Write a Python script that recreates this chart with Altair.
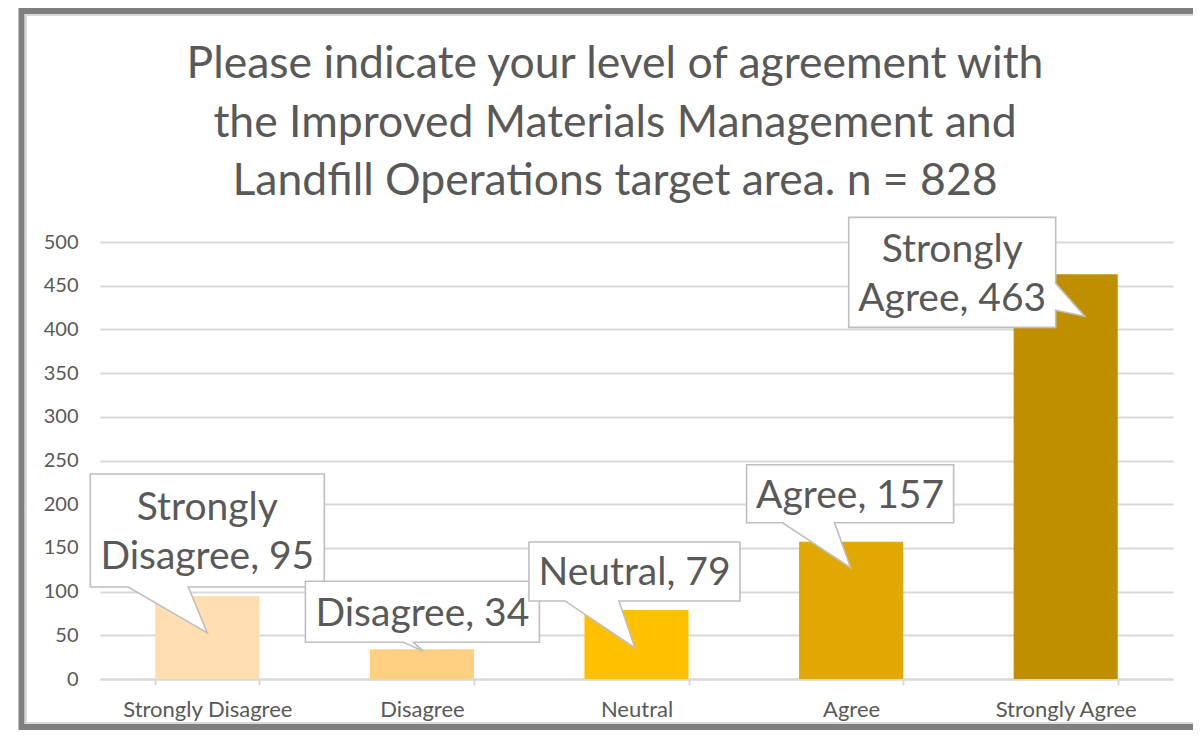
import altair as alt
import pandas as pd

# ---------------- data ----------------
CATEGORIES = ["Strongly Disagree", "Disagree", "Neutral", "Agree", "Strongly Agree"]
COUNTS = [95, 34, 79, 157, 463]
BAR_COLORS = ["#FFDFB1", "#FFCF82", "#FFC000", "#E0A800", "#BF8F00"]
Y_TICKS = [0, 50, 100, 150, 200, 250, 300, 350, 400, 450, 500]
TITLE_LINES = [
    "Please indicate your level of agreement with",
    "the Improved Materials Management and",
    "Landfill Operations target area. n = 828",
]

# ---------------- style ----------------
FONT = "Lato"
TEXT_COLOR = "#595959"
GRID_COLOR = "#D9D9D9"
W, H = 1073, 437
PAD_L, PAD_T, PAD_R, PAD_B = 92, 234, 20, 51
CALLOUT_FS = 39
CALLOUT_LH = 49

# callout geometry in pixels, relative to the top-centre of each bar
CALLOUTS = {
    "Strongly Disagree": dict(box=(-117, 117, -122, -9), base=(-79, -19), tip=(0, 37), side="bottom"),
    "Disagree": dict(box=(-116.5, 117.5, -68, -7), base=(-18.5, -8.5), tip=(1.5, 2), side="bottom"),
    "Neutral": dict(box=(-107.5, 103.5, -68, -9), base=(-71.5, -17.5), tip=(-1.5, 38), side="bottom"),
    "Agree": dict(box=(-104.5, 102.5, -77, -19), base=(-68.5, -16.5), tip=(-0.5, 26), side="bottom"),
    "Strongly Agree": dict(box=(-217, -10, -57, 53), base=(9, 36), tip=(19, 42), side="right"),
}


def callout_path(c):
    x0, x1, y0, y1 = c["box"]
    b1, b2 = c["base"]
    tx, ty = c["tip"]
    if c["side"] == "bottom":
        pts = [(x0, y0), (x1, y0), (x1, y1), (b2, y1), (tx, ty), (b1, y1), (x0, y1)]
    else:
        pts = [(x0, y0), (x1, y0), (x1, b1), (tx, ty), (x1, b2), (x1, y1), (x0, y1)]
    return "M" + " L".join(f"{px},{py}" for px, py in pts) + " Z"


df = pd.DataFrame({"category": CATEGORIES, "count": COUNTS})
df["label"] = [f"{c}, {v}".replace("Strongly ", "Strongly\n") for c, v in zip(CATEGORIES, COUNTS)]

x_enc = alt.X(
    "category:N",
    sort=CATEGORIES,
    title=None,
    scale=alt.Scale(paddingInner=0.515, paddingOuter=0.2575),
    axis=alt.Axis(
        labelAngle=0,
        labelFont=FONT,
        labelFontSize=22,
        labelColor=TEXT_COLOR,
        labelPadding=14,
        domainColor=GRID_COLOR,
        domainWidth=2,
        tickColor=GRID_COLOR,
        tickWidth=2,
        tickSize=6,
        tickBand="extent",
        grid=False,
    ),
)
y_enc = alt.Y(
    "count:Q",
    title=None,
    scale=alt.Scale(domain=[0, 500], nice=False),
    axis=alt.Axis(
        values=Y_TICKS,
        labelFont=FONT,
        labelFontSize=20,
        labelColor=TEXT_COLOR,
        labelPadding=22,
        ticks=False,
        domain=False,
        grid=True,
        gridColor=GRID_COLOR,
        gridWidth=2,
    ),
)

base = alt.Chart(df)

bars = base.mark_bar().encode(
    x=x_enc,
    y=y_enc,
    color=alt.Color("category:N", scale=alt.Scale(domain=CATEGORIES, range=BAR_COLORS), legend=None),
)

layers = [bars]
for cat, lab in zip(CATEGORIES, df["label"]):
    c = CALLOUTS[cat]
    x0, x1, y0, y1 = c["box"]
    n_lines = lab.count("\n") + 1
    sub = base.transform_filter(alt.datum.category == cat)
    layers.append(
        sub.mark_point(
            shape=callout_path(c),
            size=4,
            filled=True,
            fill="white",
            stroke="#BFBFBF",
            strokeWidth=1.6,
            opacity=1,
        ).encode(x=alt.X("category:N", sort=CATEGORIES), y="count:Q")
    )
    layers.append(
        sub.mark_text(
            font=FONT,
            fontSize=CALLOUT_FS,
            color=TEXT_COLOR,
            align="center",
            baseline="middle",
            lineBreak="\n",
            lineHeight=CALLOUT_LH,
            dx=(x0 + x1) / 2,
            dy=(y0 + y1) / 2 + 2 - (n_lines - 1) * CALLOUT_LH / 2,
        ).encode(x=alt.X("category:N", sort=CATEGORIES), y="count:Q", text="label:N")
    )

one = pd.DataFrame({"f": [0]})
frame_outer = alt.Chart(one).mark_rect(filled=False, stroke="#7F7F7F", strokeWidth=6).encode(
    x=alt.value(-78.5), x2=alt.value(W + 60), y=alt.value(-231), y2=alt.value(H + 48)
)
frame_inner = alt.Chart(one).mark_rect(filled=False, stroke="#D9D9D9", strokeWidth=2).encode(
    x=alt.value(-74), x2=alt.value(W + 60), y=alt.value(-227), y2=alt.value(H + 44)
)
title = alt.Chart(pd.DataFrame({"t": ["\n".join(TITLE_LINES)]})).mark_text(
    font=FONT,
    fontSize=44.5,
    color=TEXT_COLOR,
    align="center",
    baseline="alphabetic",
    lineBreak="\n",
    lineHeight=58.5,
).encode(x=alt.value(515), y=alt.value(-164), text="t:N")

chart = (
    alt.layer(frame_outer, frame_inner, title, *layers)
    .properties(
        width=W,
        height=H,
        padding={"left": PAD_L, "top": PAD_T, "right": PAD_R, "bottom": PAD_B},
        autosize=alt.AutoSizeParams(type="none"),
        background="white",
    )
    .configure_view(stroke=None)
)

chart.save("out.html", embed_options={"renderer": "svg", "actions": False})
